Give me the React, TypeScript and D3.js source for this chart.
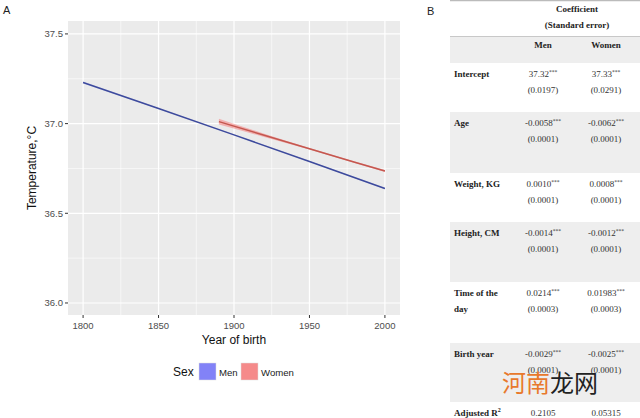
import React from "react";
import * as d3 from "d3";

// ---- Panel A data ----
const xTicks = [1800, 1850, 1900, 1950, 2000];
const yTicks = [36.0, 36.5, 37.0, 37.5];
const menYears = [1800, 1850, 1900, 1950, 2000];
const menFit = [37.229, 37.084, 36.937, 36.789, 36.638];
const menHalf = [0.006, 0.003, 0.002, 0.002, 0.004];
const womenYears = [1890, 1920, 1950, 1980, 2000];
const womenFit = [37.011, 36.935, 36.86, 36.785, 36.736];
const womenHalf = [0.016, 0.009, 0.004, 0.004, 0.006];
const legendLabels = ["Men", "Women"];

// ---- Panel B data ----
const rowLabels = [["Intercept"], ["Age"], ["Weight, KG"], ["Height, CM"], ["Time of the", "day"], ["Birth year"], ["Adjusted R"]];
const menCoef = ["37.32", "-0.0058", "0.0010", "-0.0014", "0.0214", "-0.0029", "0.2105"];
const menSE = ["(0.0197)", "(0.0001)", "(0.0001)", "(0.0001)", "(0.0003)", "(0.0001)", ""];
const womenCoef = ["37.33", "-0.0062", "0.0008", "-0.0012", "0.01983", "-0.0025", "0.05315"];
const womenSE = ["(0.0291)", "(0.0001)", "(0.0001)", "(0.0001)", "(0.0003)", "(0.0001)", ""];
const stars = ["***", "***", "***", "***", "***", "***", ""];
const shaded = [false, true, false, true, false, true, false];

// layout
const P = { left: 68, right: 400, top: 21, bottom: 315 };
const rowTops = [63, 112, 173, 222, 282, 343, 402, 430];
const colMen = 543;
const colWomen = 606;
const labelX = 454;

export default function App() {
  const x = d3.scaleLinear().domain([1790, 2010]).range([P.left, P.right]);
  const y = d3.scaleLinear().domain([35.933, 37.572]).range([P.bottom, P.top]);
  const minorX = [1825, 1875, 1925, 1975];
  const minorY = [36.25, 36.75, 37.25];

  const mkLine = (xs: number[], ys: number[]) =>
    d3.line<number>().x((d) => x(d)).y((_, i) => y(ys[i]))(xs) as string;
  const mkArea = (xs: number[], ys: number[], hs: number[]) =>
    d3
      .area<number>()
      .x((d) => x(d))
      .y0((_, i) => y(ys[i] - hs[i]))
      .y1((_, i) => y(ys[i] + hs[i]))
      .curve(d3.curveMonotoneX)(xs) as string;

  const sans = "Liberation Sans, Arial, sans-serif";
  const serif = "Liberation Serif, Times New Roman, serif";
  const keyFill = ["#8282f7", "#f58a8a"];

  return (
    <svg width={640} height={418} style={{ position: "absolute", left: 0, top: 0 }} fontFamily={sans}>
      <rect width={640} height={418} fill="#fff" />
      {/* Panel A */}
      <text x={3} y={14} fontSize={11} fill="#222">A</text>
      <rect x={P.left} y={P.top} width={P.right - P.left} height={P.bottom - P.top} fill="#EBEBEB" />
      {minorX.map((v) => (
        <line key={"mx" + v} x1={x(v)} x2={x(v)} y1={P.top} y2={P.bottom} stroke="#fff" strokeWidth={0.6} />
      ))}
      {minorY.map((v) => (
        <line key={"my" + v} x1={P.left} x2={P.right} y1={y(v)} y2={y(v)} stroke="#fff" strokeWidth={0.6} />
      ))}
      {xTicks.map((v) => (
        <line key={"gx" + v} x1={x(v)} x2={x(v)} y1={P.top} y2={P.bottom} stroke="#fff" strokeWidth={1.2} />
      ))}
      {yTicks.map((v) => (
        <line key={"gy" + v} x1={P.left} x2={P.right} y1={y(v)} y2={y(v)} stroke="#fff" strokeWidth={1.2} />
      ))}
      <path d={mkArea(menYears, menFit, menHalf)} fill="#9aa8ff" opacity={0.35} />
      <path d={mkArea(womenYears, womenFit, womenHalf)} fill="#f58080" opacity={0.55} />
      <path d={mkLine(menYears, menFit)} fill="none" stroke="#3d4a9c" strokeWidth={1.5} />
      <path d={mkLine(womenYears, womenFit)} fill="none" stroke="#c4574f" strokeWidth={1.5} />
      {xTicks.map((v) => (
        <g key={"xt" + v}>
          <line x1={x(v)} x2={x(v)} y1={P.bottom} y2={P.bottom + 3} stroke="#333" strokeWidth={1} />
          <text x={x(v)} y={P.bottom + 14} fontSize={9.5} fill="#4D4D4D" textAnchor="middle">{v}</text>
        </g>
      ))}
      {yTicks.map((v) => (
        <g key={"yt" + v}>
          <line x1={P.left - 3} x2={P.left} y1={y(v)} y2={y(v)} stroke="#333" strokeWidth={1} />
          <text x={P.left - 5} y={y(v) + 3.5} fontSize={9.5} fill="#4D4D4D" textAnchor="end">{v.toFixed(1)}</text>
        </g>
      ))}
      <text x={(P.left + P.right) / 2} y={344} fontSize={12} fill="#111" textAnchor="middle">Year of birth</text>
      <text
        transform={`translate(36,${(P.top + P.bottom) / 2}) rotate(-90)`}
        fontSize={12}
        fill="#111"
        textAnchor="middle"
      >
        Temperature,°C
      </text>
      {/* legend */}
      <text x={173} y={376} fontSize={12} fill="#111">Sex</text>
      {legendLabels.map((l, i) => {
        const bx = i === 0 ? 199 : 241;
        return (
          <g key={l}>
            <rect x={bx} y={363} width={17} height={17} fill={keyFill[i]} stroke="#ddd" strokeWidth={0.5} />
            <text x={bx + 20} y={375.5} fontSize={9.6} fill="#222">{l}</text>
          </g>
        );
      })}

      {/* Panel B */}
      <text x={427} y={15} fontSize={11} fill="#222" fontFamily={sans}>B</text>
      <line x1={450} x2={640} y1={0.5} y2={0.5} stroke="#bbb" strokeWidth={1.5} />
      <text x={577} y={12} fontSize={9} fontWeight="bold" fill="#222" textAnchor="middle" fontFamily={serif}>Coefficient</text>
      <text x={577} y={28} fontSize={9} fontWeight="bold" fill="#222" textAnchor="middle" fontFamily={serif}>(Standard error)</text>
      <line x1={450} x2={640} y1={36.5} y2={36.5} stroke="#c8c8c8" strokeWidth={1.2} />
      <rect x={450} y={37} width={190} height={26} fill="#EEEEEE" />
      <text x={colMen} y={48} fontSize={9} fontWeight="bold" fill="#222" textAnchor="middle" fontFamily={serif}>Men</text>
      <text x={colWomen} y={48} fontSize={9} fontWeight="bold" fill="#222" textAnchor="middle" fontFamily={serif}>Women</text>
      {rowLabels.map((lab, i) => {
        const top = rowTops[i];
        const h = rowTops[i + 1] - top;
        const ty = top + 14;
        return (
          <g key={"r" + i} fontFamily={serif} fontSize={9}>
            {shaded[i] && <rect x={450} y={top} width={190} height={h} fill="#EEEEEE" />}
            {lab.map((s, j) => (
              <text key={j} x={labelX} y={ty + j * 16} fontWeight="bold" fill="#222">
                {s}
                {i === rowLabels.length - 1 && <tspan fontSize={6} dy={-4}>2</tspan>}
              </text>
            ))}
            <text x={colMen} y={ty} fill="#333" textAnchor="middle">
              {menCoef[i]}
              {stars[i] && <tspan fontSize={5.5} dy={-3.5}>{stars[i]}</tspan>}
            </text>
            <text x={colWomen} y={ty} fill="#333" textAnchor="middle">
              {womenCoef[i]}
              {stars[i] && <tspan fontSize={5.5} dy={-3.5}>{stars[i]}</tspan>}
            </text>
            {menSE[i] && <text x={colMen} y={ty + 16} fill="#333" textAnchor="middle">{menSE[i]}</text>}
            {womenSE[i] && <text x={colWomen} y={ty + 16} fill="#333" textAnchor="middle">{womenSE[i]}</text>}
          </g>
        );
      })}
      {/* watermark */}
      <text x={502} y={392} fontSize={24} fontFamily="Noto Sans CJK SC" >
        <tspan fill="#e8792c">河南</tspan>
        <tspan fill="#222">龙网</tspan>
      </text>
    </svg>
  );
}
